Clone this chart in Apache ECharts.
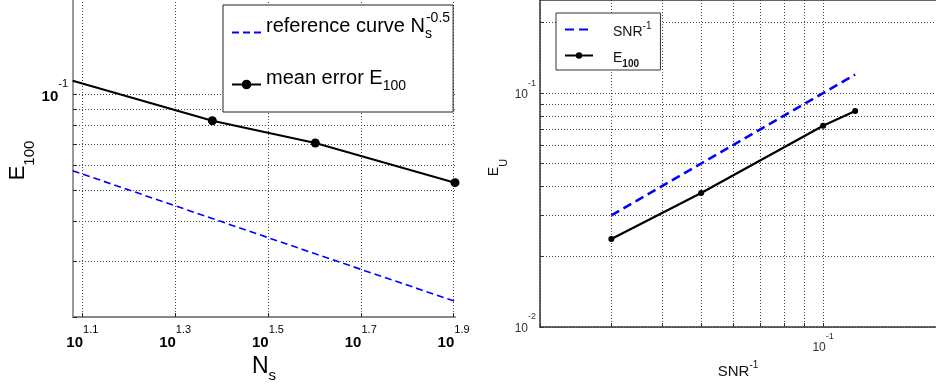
<!DOCTYPE html>
<html>
<head>
<meta charset="utf-8">
<script src="https://cdn.jsdelivr.net/npm/echarts@6/dist/echarts.min.js"></script>
<style>
  html, body { margin: 0; padding: 0; background: #fff; }
  #chart { width: 936px; height: 388px; }
</style>
</head>
<body>
<div id="chart"></div>
<script>
// left panel: mean error against number of samples
const nsValues = [12, 24, 40, 80];
const meanError = [0.1107, 0.0828, 0.0705, 0.0529];
const refCurve = [0.0577, 0.0408, 0.0316, 0.0224];
const nsTickExps = [1.1, 1.3, 1.5, 1.7, 1.9];
const errGridTicks = [0.02, 0.03, 0.04, 0.05, 0.06, 0.07, 0.08, 0.09, 0.1, 0.2];
const errLabelTicks = [0.1];

// right panel: error against inverse SNR
const snrInv = [0.03, 0.05, 0.1, 0.12];
const snrRef = [0.03, 0.05, 0.1, 0.12];
const e100 = [0.0238, 0.0374, 0.0725, 0.0838];
const snrGridTicks = [0.02, 0.03, 0.04, 0.05, 0.06, 0.07, 0.08, 0.09, 0.1];
const snrLabelTicks = [0.1];
const euGridTicks = [0.01, 0.02, 0.03, 0.04, 0.05, 0.06, 0.07, 0.08, 0.09, 0.1, 0.2];
const euLabelTicks = [0.01, 0.1];

const FONT = '"Liberation Sans", Arial, Helvetica, sans-serif';
const nsMin = 12.02;
const nsTicks = nsTickExps.map((e) => Math.pow(10, e));

const chart = echarts.init(document.getElementById('chart'));

function pairs(xs, ys) {
	return xs.map((x, i) => [x, ys[i]]);
}
function powLabel(v, digits) {
	return '{b|10}{p|' + Math.log10(v).toFixed(digits) + '}';
}

const legendNames = {
	ref: '{m|reference curve N}{s|s}{p|-0.5}',
	mean: '{m|mean error E}{s|100}',
	snr: '{m|SNR}{p|-1}',
	e100: '{m|E}{s|100}'
};

const gridLine = { show: true, lineStyle: { color: '#444', width: 1, type: [1, 2] } };

chart.setOption({
	animation: false,
	textStyle: { fontFamily: FONT },
	grid: [
		{ left: 73, top: -1, width: 382, height: 318, show: false, outerBoundsMode: 'none' },
		{ left: 540, top: 0, right: 0, height: 327, show: false, outerBoundsMode: 'none' }
	],
	legend: [
		{
			data: [{ name: 'ref', itemStyle: { opacity: 0 } }, 'mean'],
			orient: 'vertical',
			left: 223, top: 5,
			itemWidth: 29, itemHeight: 12, itemGap: 27,
			padding: [6, 3, 19, 8],
			borderColor: '#222', borderWidth: 1, backgroundColor: '#fff',
			formatter: (name) => legendNames[name],
			textStyle: {
				padding: [0, 0, 13, 0],
				rich: {
					m: { fontSize: 20, fontFamily: FONT, color: '#000', lineHeight: 30 },
					s: { fontSize: 14, fontFamily: FONT, color: '#000', verticalAlign: 'bottom', width: 1 },
					p: { fontSize: 14, fontFamily: FONT, color: '#000', verticalAlign: 'top' }
				}
			}
		},
		{
			data: [{ name: 'snr', itemStyle: { opacity: 0 } }, 'e100'],
			orient: 'vertical',
			left: 556, top: 13,
			itemWidth: 28, itemHeight: 8, itemGap: 12,
			padding: [8, 9, 1, 8],
			borderColor: '#333', borderWidth: 1, backgroundColor: '#fff',
			formatter: (name) => legendNames[name],
			textStyle: {
				padding: [5, 0, 0, 15],
				rich: {
					m: { fontSize: 14, fontFamily: FONT, color: '#111', lineHeight: 22 },
					s: { fontSize: 10, fontFamily: FONT, fontWeight: 'bold', color: '#111', verticalAlign: 'bottom' },
					p: { fontSize: 10, fontFamily: FONT, color: '#111', verticalAlign: 'top' }
				}
			}
		}
	],
	xAxis: [
		{
			type: 'log', gridIndex: 0, min: nsMin, max: 80,
			name: '{m|N}{s|s}', nameLocation: 'middle', nameGap: 30,
			nameTextStyle: {
				rich: {
					m: { fontSize: 23, fontFamily: FONT, color: '#000', verticalAlign: 'top' },
					s: { fontSize: 15, fontFamily: FONT, color: '#000', lineHeight: 28, verticalAlign: 'bottom' }
				}
			},
			axisLine: { lineStyle: { color: '#888', width: 2 } },
			axisTick: { inside: true, length: 4, customValues: nsTicks, lineStyle: { color: '#222' } },
			axisLabel: {
				customValues: nsTicks, margin: 7,
				formatter: (v) => powLabel(v, 1),
				rich: {
					b: { fontSize: 15, fontWeight: 'bold', fontFamily: FONT, color: '#000', lineHeight: 26, verticalAlign: 'bottom' },
					p: { fontSize: 11, fontFamily: FONT, color: '#000', verticalAlign: 'top' }
				}
			},
			splitLine: gridLine
		},
		{
			type: 'log', gridIndex: 1, min: 0.02, max: 0.19,
			name: '{m|SNR}{p|-1}', nameLocation: 'middle', nameGap: 33,
			nameTextStyle: {
				rich: {
					m: { fontSize: 15, fontFamily: FONT, color: '#111', lineHeight: 19, verticalAlign: 'bottom' },
					p: { fontSize: 10, fontFamily: FONT, color: '#111', verticalAlign: 'top' }
				}
			},
			axisLine: { lineStyle: { color: '#333', width: 1.5 } },
			axisTick: { inside: true, length: 4, customValues: snrGridTicks, lineStyle: { color: '#333' } },
			axisLabel: {
				customValues: snrLabelTicks, margin: 5,
				formatter: (v) => powLabel(v, 0),
				rich: {
					b: { fontSize: 12, fontFamily: FONT, color: '#333', lineHeight: 22, verticalAlign: 'bottom' },
					p: { fontSize: 9, fontFamily: FONT, color: '#333', verticalAlign: 'top' }
				}
			},
			splitLine: gridLine
		},
		{
			// top frame line of the right panel
			type: 'value', gridIndex: 1, position: 'top',
			axisLine: { show: true, lineStyle: { color: '#333', width: 1.5 } },
			axisTick: { show: false }, axisLabel: { show: false }, splitLine: { show: false }
		}
	],
	yAxis: [
		{
			type: 'log', gridIndex: 0, min: 0.02, max: 0.2,
			name: '{m|E}{s|100}', nameLocation: 'middle', nameGap: 36,
			nameTextStyle: {
				padding: [0, 5, 0, 0],
				rich: {
					m: { fontSize: 22, fontFamily: FONT, color: '#000', verticalAlign: 'top' },
					s: { fontSize: 15, fontFamily: FONT, color: '#000', lineHeight: 30, verticalAlign: 'bottom' }
				}
			},
			axisLine: { lineStyle: { color: '#999', width: 2 } },
			axisTick: { inside: true, length: 4, customValues: errGridTicks, lineStyle: { color: '#222' } },
			axisLabel: {
				customValues: errLabelTicks, margin: 5,
				formatter: (v) => powLabel(v, 0),
				padding: [0, 0, 7, 0],
				rich: {
					b: { fontSize: 15, fontWeight: 'bold', fontFamily: FONT, color: '#000', lineHeight: 26, verticalAlign: 'bottom' },
					p: { fontSize: 11, fontFamily: FONT, color: '#000', verticalAlign: 'top' }
				}
			},
			splitLine: gridLine
		},
		{
			type: 'log', gridIndex: 1, min: 0.01, max: 0.25,
			name: '{m|E}{s|U}', nameLocation: 'middle', nameGap: 31,
			nameTextStyle: {
				padding: [0, 8, 0, 0],
				rich: {
					m: { fontSize: 14, fontFamily: FONT, color: '#111', verticalAlign: 'top' },
					s: { fontSize: 11, fontFamily: FONT, color: '#111', lineHeight: 22, verticalAlign: 'bottom' }
				}
			},
			axisLine: { lineStyle: { color: '#333', width: 1.5 } },
			axisTick: { inside: true, length: 4, customValues: euGridTicks, lineStyle: { color: '#333' } },
			axisLabel: {
				customValues: euLabelTicks, margin: 4,
				formatter: (v) => powLabel(v, 0),
				padding: [0, 0, 7, 0],
				rich: {
					b: { fontSize: 12, fontFamily: FONT, color: '#333', lineHeight: 22, verticalAlign: 'bottom' },
					p: { fontSize: 9, fontFamily: FONT, color: '#333', verticalAlign: 'top' }
				}
			},
			splitLine: gridLine
		}
	],
	series: [
		{
			name: 'ref', type: 'line', xAxisIndex: 0, yAxisIndex: 0,
			data: pairs(nsValues, refCurve),
			symbol: 'none',
			lineStyle: { color: '#0000ff', width: 1.6, type: [7, 4] },
			itemStyle: { color: '#0000ff' }
		},
		{
			name: 'mean', type: 'line', xAxisIndex: 0, yAxisIndex: 0,
			data: pairs(nsValues, meanError),
			symbol: 'circle',
			symbolSize: (v) => (v[0] < nsMin ? 0 : 9),
			lineStyle: { color: '#000', width: 2 },
			itemStyle: { color: '#000' }
		},
		{
			name: 'snr', type: 'line', xAxisIndex: 1, yAxisIndex: 1,
			data: pairs(snrInv, snrRef),
			symbol: 'none',
			lineStyle: { color: '#0000ff', width: 2.5, type: [9, 5] },
			itemStyle: { color: '#0000ff' }
		},
		{
			name: 'e100', type: 'line', xAxisIndex: 1, yAxisIndex: 1,
			data: pairs(snrInv, e100),
			symbol: 'circle', symbolSize: 6,
			lineStyle: { color: '#000', width: 2.2 },
			itemStyle: { color: '#000' }
		}
	]
});
</script>
</body>
</html>
